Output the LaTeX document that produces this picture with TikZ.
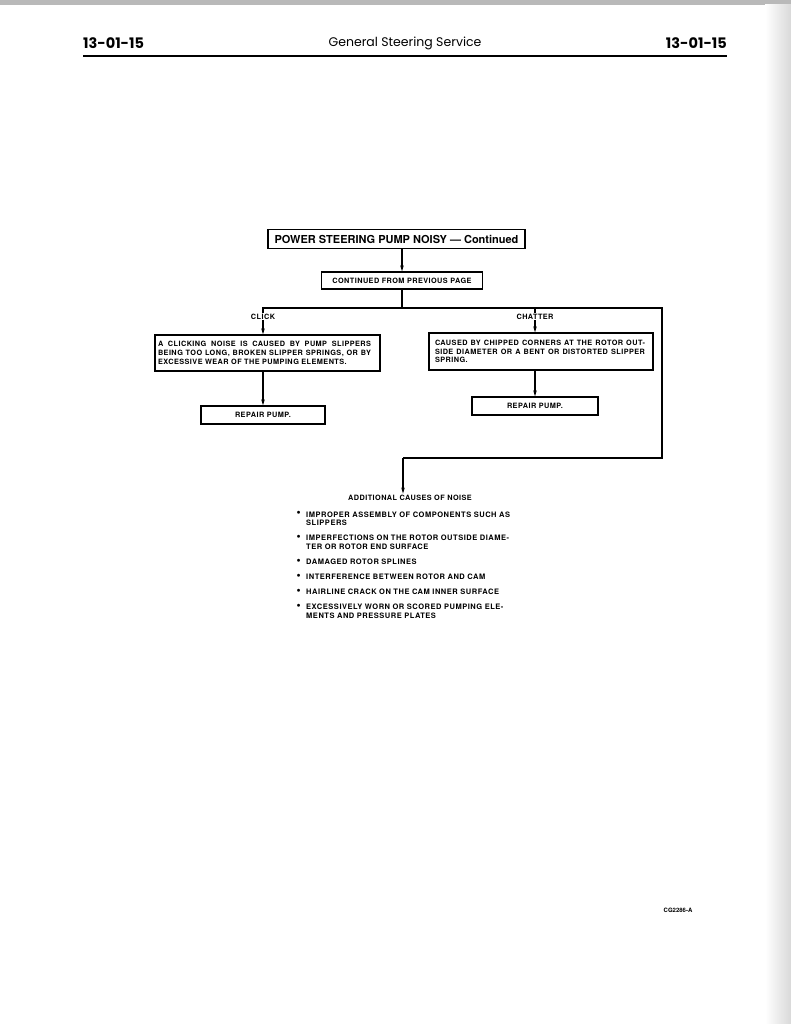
\documentclass[tikz,border=0pt]{standalone}
\usepackage{fontspec}
\setmainfont{TeX Gyre Heros}
\newfontfamily\hdr{Poppins}
\newfontfamily\bx[LetterSpace=6]{TeX Gyre Heros}
\newfontfamily\bxi[LetterSpace=7]{TeX Gyre Heros}
\usetikzlibrary{arrows.meta,backgrounds}
\newcommand{\jline}[2]{\makebox[#1][s]{#2}}
\begin{document}
\begin{tikzpicture}[x=1pt,y=-1pt,
  box/.style={draw, line width=1.3pt, inner sep=0pt, font=\bx\bfseries\fontsize{7.3}{8.7}\selectfont},
  lbl/.style={inner sep=1pt, fill=white, font=\bx\bfseries\fontsize{7.3}{8}\selectfont},
  wire/.style={line width=1.1pt},
  arr/.style={line width=1.1pt, -{Stealth[length=6pt,width=3.5pt]}},
  item/.style={anchor=north west, inner sep=0pt, align=left, text width=206pt,
     font=\bxi\bfseries\fontsize{7.5}{8.6}\selectfont},
  dot/.style={anchor=north west, inner sep=0pt, font=\bfseries\fontsize{7.5}{8.6}\selectfont}]
\useasboundingbox (0,0) rectangle (791,1024);
% header
\node[anchor=west, inner sep=0pt, font=\hdr\bfseries\fontsize{14.5}{16}\selectfont] (pgl) at (83,43) {13-01-15};
\node[inner sep=0pt, font=\hdr\fontsize{12.5}{15}\selectfont] (ttl) at (405,43) {General Steering Service};
\node[anchor=east, inner sep=0pt, font=\hdr\bfseries\fontsize{14.5}{16}\selectfont] (pgr) at (727,43) {13-01-15};
\draw[line width=1.8pt] (83,56) coordinate (rl) -- (727,56) coordinate (rr);
% flowchart
\node[box, minimum width=257pt, minimum height=19pt, font=\bfseries\fontsize{11}{13}\selectfont] (title) at (396.5,239) {POWER STEERING PUMP NOISY --- Continued};
\node[box, minimum width=161pt, minimum height=17pt] (cont) at (402,280.5) {CONTINUED FROM PREVIOUS PAGE};
\node[lbl] (clk) at (263,316.5) {CLICK};
\node[lbl] (cht) at (535,316.5) {CHATTER};
\node[box, minimum width=225pt, minimum height=36pt, align=left] (click) at (267.5,353)
 {\jline{213pt}{A CLICKING NOISE IS CAUSED BY PUMP SLIPPERS}\hspace*{6pt}\\
  \jline{213pt}{BEING TOO LONG, BROKEN SLIPPER SPRINGS, OR BY}\hspace*{6pt}\\
  \makebox[213pt][l]{EXCESSIVE WEAR OF THE PUMPING ELEMENTS.}\hspace*{6pt}};
\node[box, minimum width=224pt, minimum height=37pt, align=left] (chat) at (541,351.5)
 {\jline{210pt}{CAUSED BY CHIPPED CORNERS AT THE ROTOR OUT-}\hspace*{2pt}\\
  \jline{210pt}{SIDE DIAMETER OR A BENT OR DISTORTED SLIPPER}\hspace*{2pt}\\
  \makebox[210pt][l]{SPRING.}\hspace*{2pt}};
\node[box, minimum width=124pt, minimum height=18pt] (rep1) at (263,415) {REPAIR PUMP.};
\node[box, minimum width=126pt, minimum height=18pt] (rep2) at (535,406) {REPAIR PUMP.};
\coordinate (cL) at (263,308);
\coordinate (cR) at (662,308);
\coordinate (cB) at (662,458);
\coordinate (cM) at (403,458);
\node[inner sep=1pt, font=\bx\bfseries\fontsize{7.3}{8}\selectfont] (addl) at (410,497.5) {ADDITIONAL CAUSES OF NOISE};
% bullet list
\foreach \yy/\nm in {511.5/b1,535/b2,559/b3,574/b4,589/b5,604/b6}
  \node[dot] (\nm) at (296.5,\yy) {$\bullet$};
\node[item] (i1) at (306,511.5) {\jline{202pt}{IMPROPER ASSEMBLY OF COMPONENTS SUCH AS}\\SLIPPERS};
\node[item] (i2) at (306,535) {\jline{202pt}{IMPERFECTIONS ON THE ROTOR OUTSIDE DIAME-}\\TER OR ROTOR END SURFACE};
\node[item] (i3) at (306,559) {DAMAGED ROTOR SPLINES};
\node[item] (i4) at (306,574) {INTERFERENCE BETWEEN ROTOR AND CAM};
\node[item] (i5) at (306,589) {HAIRLINE CRACK ON THE CAM INNER SURFACE};
\node[item] (i6) at (306,604) {\jline{202pt}{EXCESSIVELY WORN OR SCORED PUMPING ELE-}\\MENTS AND PRESSURE PLATES};
\node[inner sep=0pt, font=\bfseries\fontsize{6}{7}\selectfont] (fig) at (678,910) {CG2286-A};
\begin{scope}[on background layer]
\fill[white] (0,0) rectangle (791,1024);
\fill[gray!55] (0,0) rectangle (791,5);
\shade[left color=white, right color=gray!30] (765,5) rectangle (791,1024);
\draw[arr] (title.south -| cont.north) -- (cont.north);
\draw[wire] (cont.south) -- (cont.south |- cL);
\draw[wire] (clk.north) -- (cL) -- (cR) -- (cB) -- (cM);
\draw[wire] (cht.north) -- (cht.north |- cL);
\draw[arr] (clk.south) -- (clk.south |- click.north);
\draw[arr] (cht.south) -- (cht.south |- chat.north);
\draw[arr] (click.south -| rep1.north) -- (rep1.north);
\draw[arr] (chat.south -| rep2.north) -- (rep2.north);
\draw[arr] (cM) -- (cM |- addl.north);
\end{scope}
\end{tikzpicture}
\end{document}
